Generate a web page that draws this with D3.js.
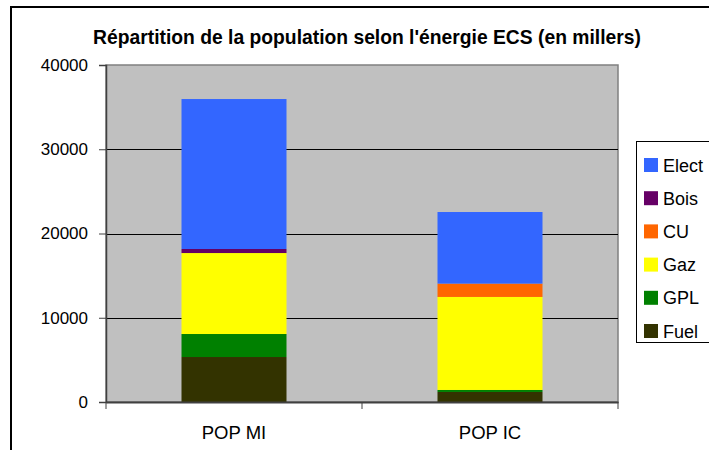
<!DOCTYPE html>
<html>
<head>
<meta charset="utf-8">
<script src="https://cdn.jsdelivr.net/npm/d3@7"></script>
<style>
  body { margin: 0; background: #fff; }
  svg { display: block; font-family: "Liberation Sans", Arial, sans-serif; }
</style>
</head>
<body>
<svg width="709" height="450"></svg>
<script>
const categories = ["POP MI", "POP IC"];
const series = ["Fuel", "GPL", "Gaz", "CU", "Bois", "Elect"];
const fuel = [5340, 1190];
const gpl = [2730, 240];
const gaz = [9610, 11040];
const cu = [0, 1580];
const bois = [480, 0];
const elect = [17800, 8500];
const yTicks = [0, 10000, 20000, 30000, 40000];

const colors = {
  Fuel: "#333300", GPL: "#008000", Gaz: "#ffff00",
  CU: "#ff6600", Bois: "#660066", Elect: "#3366ff"
};

const rows = categories.map((c, i) => ({
  cat: c, Fuel: fuel[i], GPL: gpl[i], Gaz: gaz[i], CU: cu[i], Bois: bois[i], Elect: elect[i]
}));

const svg = d3.select("svg");

// outer chart border (runs off the right and bottom of the window)
svg.append("rect")
    .attr("x", 11).attr("y", 7)
    .attr("width", 760).attr("height", 500)
    .attr("fill", "none").attr("stroke", "#000").attr("stroke-width", 2);

const plotL = 106, plotR = 618, plotT = 65, plotB = 402;

const x = d3.scaleBand().domain(categories).range([plotL, plotR]).paddingInner(0).paddingOuter(0);
const y = d3.scaleLinear().domain([0, 40000]).range([plotB, plotT]);

// plot area
svg.append("rect")
    .attr("x", plotL).attr("y", plotT)
    .attr("width", plotR - plotL).attr("height", plotB - plotT)
    .attr("fill", "#c0c0c0").attr("stroke", "#808080").attr("stroke-width", 1.5);

// gridlines
svg.append("g")
  .selectAll("line")
  .data(yTicks.filter(t => t > 0 && t < 40000))
  .join("line")
    .attr("x1", plotL).attr("x2", plotR)
    .attr("y1", d => Math.round(y(d)) + 0.5).attr("y2", d => Math.round(y(d)) + 0.5)
    .attr("stroke", "#000");

// bars
const stack = d3.stack().keys(series)(rows);
const barW = 105;
svg.append("g")
  .selectAll("g")
  .data(stack)
  .join("g")
    .attr("fill", d => colors[d.key])
  .selectAll("rect")
  .data(d => d)
  .join("rect")
    .attr("x", d => x(d.data.cat) + x.bandwidth() / 2 - barW / 2)
    .attr("width", barW)
    .attr("y", d => y(d[1]))
    .attr("height", d => y(d[0]) - y(d[1]));

// y axis
const yAxis = svg.append("g")
    .attr("transform", `translate(${plotL},0)`)
    .call(d3.axisLeft(y).tickValues(yTicks).tickSize(7).tickPadding(11).tickFormat(d3.format("d")));
yAxis.select(".domain").attr("stroke", "#404040").attr("stroke-width", 1.5);
yAxis.selectAll(".tick line").attr("stroke", "#404040");
yAxis.selectAll(".tick text").attr("font-size", 17).attr("fill", "#000")
    .attr("font-family", "Liberation Sans, Arial, sans-serif");

// x axis
const xAxis = svg.append("g")
    .attr("transform", `translate(0,${plotB})`)
    .call(d3.axisBottom(x).tickSize(0).tickPadding(24));
xAxis.select(".domain").attr("stroke", "#404040").attr("stroke-width", 2);
xAxis.selectAll(".tick text").attr("font-size", 18.5).attr("fill", "#000")
    .attr("font-family", "Liberation Sans, Arial, sans-serif");
xAxis.selectAll(".sep")
  .data([plotL, plotL + x.bandwidth(), plotR])
  .join("line")
    .attr("x1", d => d).attr("x2", d => d)
    .attr("y1", 0).attr("y2", 7)
    .attr("stroke", "#404040");

// title
svg.append("text")
    .attr("x", 367).attr("y", 44)
    .attr("text-anchor", "middle")
    .attr("font-size", 19.3).attr("font-weight", "bold")
    .text("Répartition de la population selon l'énergie ECS (en millers)");

// legend
const legend = svg.append("g");
legend.append("rect")
    .attr("x", 636.5).attr("y", 141.5)
    .attr("width", 100).attr("height", 201)
    .attr("fill", "#fff").attr("stroke", "#000");
const legendKeys = series.slice().reverse();
const item = legend.selectAll(".item")
  .data(legendKeys)
  .join("g")
    .attr("transform", (d, i) => `translate(644,${165 + i * 33.2})`);
item.append("rect")
    .attr("x", 0).attr("y", -7)
    .attr("width", 14).attr("height", 14)
    .attr("fill", d => colors[d]);
item.append("text")
    .attr("x", 19).attr("y", 6.5)
    .attr("font-size", 18)
    .text(d => d);
</script>
</body>
</html>
